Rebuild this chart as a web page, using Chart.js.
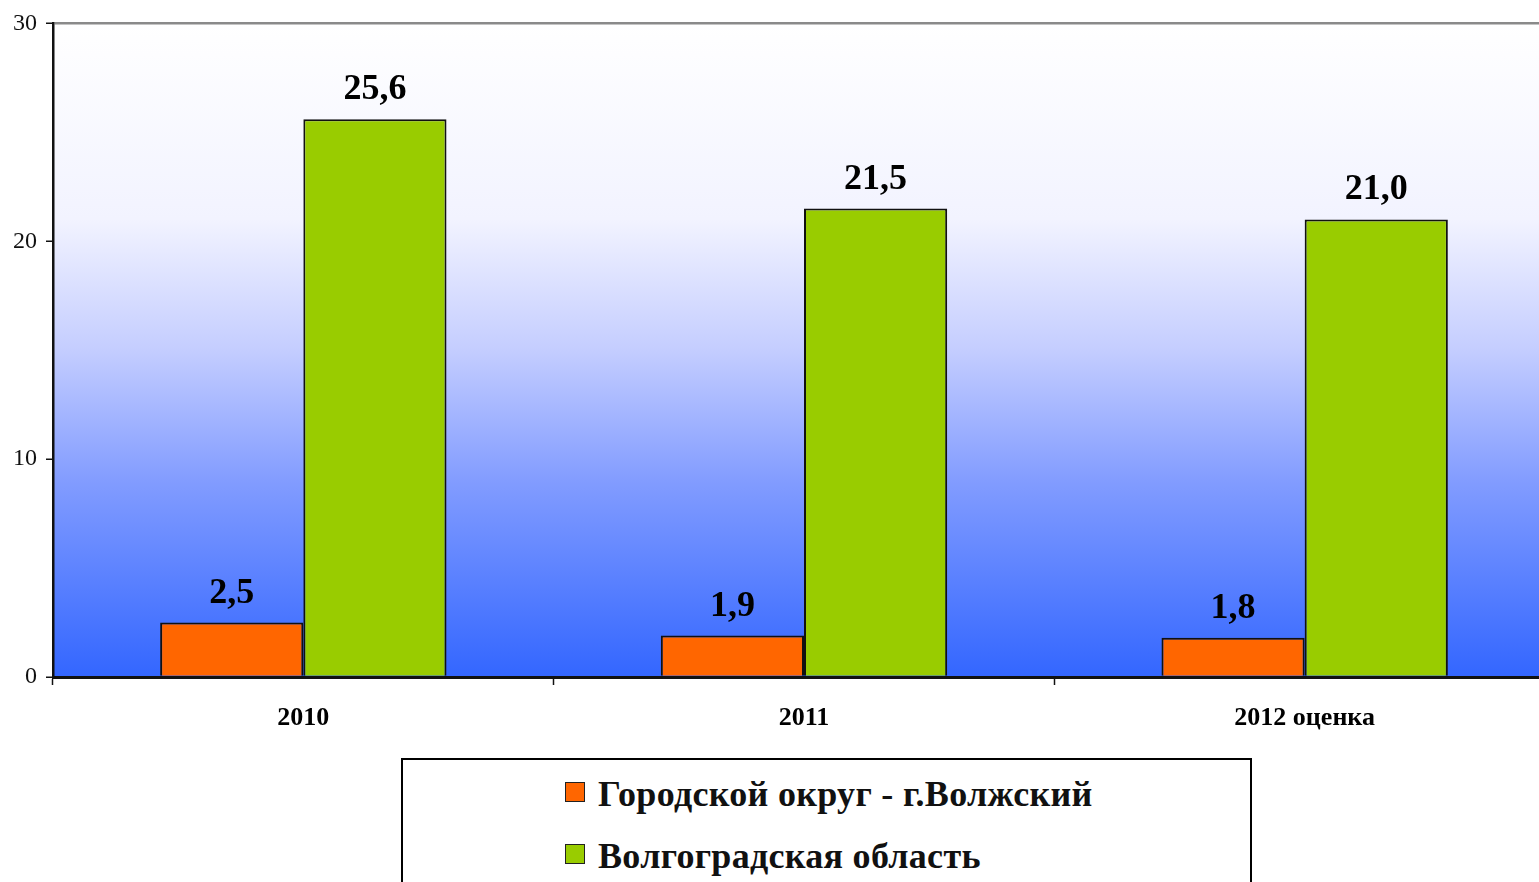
<!DOCTYPE html>
<html lang="ru">
<head>
    <meta charset="UTF-8">
    <title>Chart</title>
    <script src="https://cdn.jsdelivr.net/npm/chart.js"></script>
    <style>
        html, body { margin: 0; padding: 0; background: #fff; overflow: hidden; width: 1539px; height: 882px; }
        .wrap { position: relative; width: 1555px; height: 750px; }
        #legend { position: absolute; left: 401px; top: 758px; width: 847px; height: 140px; border: 2px solid #000; font-family: "Liberation Serif", "Times New Roman", serif; font-weight: bold; font-size: 36px; line-height: 36px; color: #111; letter-spacing: 0.3px; }
        .txt { position: absolute; left: 195px; white-space: nowrap; }
        .swatch { position: absolute; left: 162px; width: 18px; height: 18px; border: 1.5px solid #222; }
    </style>
</head>
<body>
    <div class="wrap"><canvas id="chart" width="1555" height="750"></canvas></div>
    <div id="legend"></div>

    <script>
        const categories = ['2010', '2011', '2012 оценка'];
        const volzhsky = [2.5, 1.9, 1.8];
        const oblast = [25.6, 21.5, 21.0];
        const seriesNames = ['Городской округ - г.Волжский', 'Волгоградская область'];
        const yTicks = [0, 10, 20, 30];
        const colors = ['#ff6600', '#99cc00'];

        const serif = '"Liberation Serif", "Times New Roman", serif';

        // gradient behind the bars
        const bgPlugin = {
            id: 'bg',
            beforeDraw(chart) {
                const { ctx, chartArea: a } = chart;
                const g = ctx.createLinearGradient(0, a.top, 0, a.bottom);
                g.addColorStop(0, '#ffffff');
                g.addColorStop(0.3, '#f2f3ff');
                g.addColorStop(0.5, '#c4cdff');
                g.addColorStop(0.7, '#829cff');
                g.addColorStop(1, '#3366ff');
                ctx.save();
                ctx.fillStyle = g;
                ctx.fillRect(a.left, a.top, a.right - a.left, a.bottom - a.top);
                ctx.restore();
            }
        };

        // values above bars
        const labelPlugin = {
            id: 'vals',
            afterDatasetsDraw(chart) {
                const ctx = chart.ctx;
                ctx.save();
                ctx.font = 'bold 36px ' + serif;
                ctx.fillStyle = '#000';
                ctx.textAlign = 'center';
                ctx.textBaseline = 'alphabetic';
                chart.data.datasets.forEach((ds, i) => {
                    chart.getDatasetMeta(i).data.forEach((bar, j) => {
                        ctx.fillText(ds.data[j].toFixed(1).replace('.', ','), bar.x, bar.y - 20);
                    });
                });
                ctx.restore();
            }
        };

        new Chart(document.getElementById('chart'), {
            type: 'bar',
            data: {
                labels: categories,
                datasets: [
                    { label: seriesNames[0], data: volzhsky, backgroundColor: colors[0], borderColor: '#111', borderWidth: 2 },
                    { label: seriesNames[1], data: oblast, backgroundColor: colors[1], borderColor: '#111', borderWidth: 2 }
                ]
            },
            options: {
                responsive: false,
                animation: false,
                categoryPercentage: 0.572,
                barPercentage: 1,
                layout: { padding: { top: 20, left: 0, right: 0, bottom: 0 } },
                plugins: { legend: { display: false }, tooltip: { enabled: false } },
                scales: {
                    x: {
                        afterFit(s) { s.height = 73; },
                        grid: { offset: true, drawOnChartArea: false, tickLength: 8, tickColor: '#111', tickWidth: 1.5 },
                        border: { color: '#111', width: 3 },
                        ticks: { padding: 18, color: '#000', font: { family: serif, size: 26, weight: 'bold' } }
                    },
                    y: {
                        min: 0, max: 30,
                        afterFit(s) { s.width = 53; },
                        afterBuildTicks(s) { s.ticks = yTicks.map(v => ({ value: v })); },
                        grid: {
                            color: c => (c.tick && c.tick.value === 30) ? '#8a8a8a' : 'rgba(0,0,0,0)',
                            lineWidth: 2.5,
                            tickColor: '#111', tickWidth: 1.5, tickLength: 7
                        },
                        border: { color: '#111', width: 2.5 },
                        ticks: { padding: 9, color: '#111', font: { family: serif, size: 24 } }
                    }
                }
            },
            plugins: [bgPlugin, labelPlugin]
        });

        // legend box
        const legend = document.getElementById('legend');
        seriesNames.forEach((name, i) => {
            const sw = document.createElement('span');
            sw.className = 'swatch';
            sw.style.top = (22 + i * 62) + 'px';
            sw.style.background = colors[i];
            const tx = document.createElement('span');
            tx.className = 'txt';
            tx.style.top = (16 + i * 62) + 'px';
            tx.textContent = name;
            legend.appendChild(sw);
            legend.appendChild(tx);
        });
    </script>
</body>
</html>
